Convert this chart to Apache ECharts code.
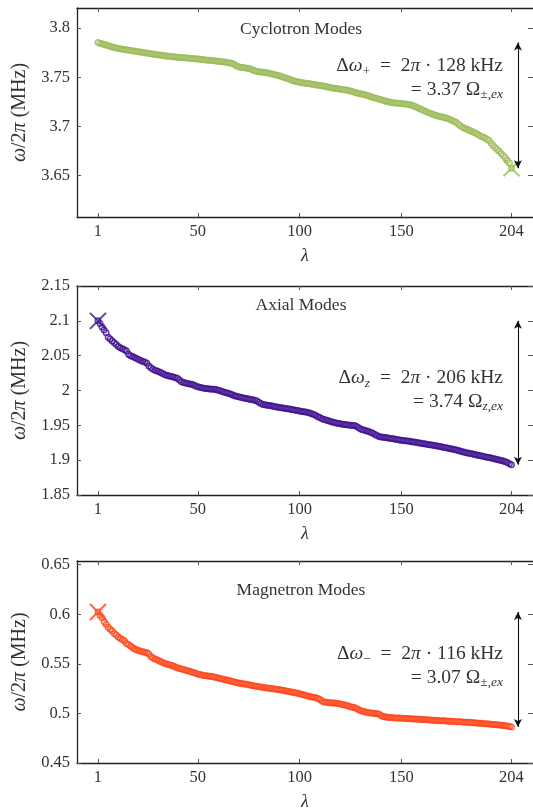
<!DOCTYPE html>
<html><head><meta charset="utf-8">
<script src="https://cdn.jsdelivr.net/npm/echarts@6/dist/echarts.min.js"></script>
<style>html,body{margin:0;padding:0;background:#fff}#c{width:533px;height:812px}</style>
</head><body><div id="c"></div>
<script>
// ---- data ----
const modeIndex = [];
for (let k = 1; k <= 204; k++) modeIndex.push(k);

const cyclotron = [
3.7853,3.7845,3.7839,3.7833,3.7827,3.7821,3.7815,3.7808,3.7802,3.7797,
3.7793,3.7789,3.7785,3.7781,3.7778,3.7775,3.7771,3.7768,3.7765,3.7762,
3.7758,3.7755,3.7751,3.7748,3.7745,3.7742,3.7739,3.7735,3.7732,3.7729,
3.7726,3.7723,3.7720,3.7717,3.7714,3.7712,3.7710,3.7708,3.7706,3.7703,
3.7701,3.7699,3.7697,3.7695,3.7694,3.7692,3.7690,3.7688,3.7687,3.7685,
3.7683,3.7680,3.7678,3.7676,3.7673,3.7671,3.7669,3.7667,3.7665,3.7662,
3.7660,3.7658,3.7655,3.7651,3.7648,3.7644,3.7638,3.7630,3.7615,3.7606,
3.7602,3.7599,3.7596,3.7592,3.7588,3.7582,3.7574,3.7565,3.7558,3.7555,
3.7553,3.7551,3.7548,3.7545,3.7540,3.7535,3.7530,3.7525,3.7520,3.7515,
3.7508,3.7500,3.7493,3.7486,3.7478,3.7471,3.7464,3.7458,3.7453,3.7448,
3.7445,3.7441,3.7438,3.7435,3.7432,3.7429,3.7426,3.7422,3.7418,3.7415,
3.7412,3.7408,3.7404,3.7400,3.7395,3.7391,3.7388,3.7385,3.7382,3.7378,
3.7375,3.7372,3.7369,3.7365,3.7360,3.7353,3.7346,3.7340,3.7336,3.7330,
3.7325,3.7320,3.7315,3.7308,3.7300,3.7294,3.7288,3.7282,3.7276,3.7270,
3.7264,3.7258,3.7252,3.7247,3.7242,3.7239,3.7237,3.7235,3.7234,3.7232,
3.7230,3.7227,3.7224,3.7220,3.7214,3.7207,3.7198,3.7188,3.7179,3.7170,
3.7160,3.7150,3.7140,3.7132,3.7125,3.7118,3.7110,3.7104,3.7099,3.7095,
3.7090,3.7084,3.7077,3.7070,3.7060,3.7050,3.7038,3.7022,3.7005,3.6990,
3.6980,3.6972,3.6963,3.6955,3.6945,3.6935,3.6923,3.6912,3.6900,3.6890,
3.6880,3.6868,3.6855,3.6830,3.6805,3.6785,3.6765,3.6745,3.6722,3.6700,
3.6680,3.6655,3.6630,3.6573];

const axial = [
2.1000,2.0960,2.0910,2.0870,2.0830,2.0765,2.0740,2.0712,2.0685,2.0662,
2.0630,2.0615,2.0600,2.0585,2.0568,2.0520,2.0500,2.0488,2.0472,2.0458,
2.0445,2.0432,2.0418,2.0408,2.0390,2.0350,2.0328,2.0305,2.0292,2.0280,
2.0268,2.0255,2.0240,2.0225,2.0215,2.0208,2.0200,2.0192,2.0184,2.0175,
2.0150,2.0125,2.0115,2.0108,2.0100,2.0094,2.0088,2.0078,2.0064,2.0055,
2.0048,2.0040,2.0034,2.0030,2.0026,2.0022,2.0019,2.0017,2.0014,2.0005,
1.9995,1.9985,1.9975,1.9968,1.9960,1.9948,1.9938,1.9925,1.9918,1.9910,
1.9902,1.9896,1.9890,1.9884,1.9878,1.9872,1.9866,1.9860,1.9850,1.9832,
1.9812,1.9800,1.9795,1.9790,1.9786,1.9782,1.9775,1.9768,1.9762,1.9757,
1.9752,1.9748,1.9743,1.9738,1.9734,1.9729,1.9724,1.9718,1.9712,1.9706,
1.9700,1.9696,1.9690,1.9684,1.9678,1.9668,1.9655,1.9640,1.9625,1.9612,
1.9595,1.9585,1.9575,1.9566,1.9557,1.9548,1.9540,1.9533,1.9527,1.9521,
1.9516,1.9512,1.9508,1.9505,1.9502,1.9499,1.9496,1.9485,1.9465,1.9448,
1.9438,1.9428,1.9420,1.9410,1.9398,1.9385,1.9370,1.9355,1.9340,1.9332,
1.9328,1.9325,1.9321,1.9316,1.9311,1.9306,1.9301,1.9296,1.9291,1.9287,
1.9283,1.9279,1.9275,1.9270,1.9265,1.9261,1.9256,1.9251,1.9246,1.9240,
1.9236,1.9231,1.9226,1.9222,1.9217,1.9212,1.9206,1.9200,1.9195,1.9189,
1.9183,1.9177,1.9171,1.9165,1.9159,1.9152,1.9145,1.9137,1.9129,1.9120,
1.9112,1.9106,1.9100,1.9094,1.9087,1.9081,1.9075,1.9068,1.9062,1.9056,
1.9050,1.9043,1.9037,1.9030,1.9023,1.9016,1.9009,1.9002,1.8996,1.8988,
1.8978,1.8965,1.8950,1.8935];

const magnetron = [
0.6023,0.5990,0.5965,0.5925,0.5900,0.5870,0.5850,0.5830,0.5805,0.5790,
0.5770,0.5755,0.5745,0.5730,0.5705,0.5695,0.5680,0.5665,0.5650,0.5642,
0.5635,0.5628,0.5622,0.5618,0.5612,0.5600,0.5575,0.5558,0.5548,0.5540,
0.5530,0.5520,0.5510,0.5503,0.5497,0.5492,0.5486,0.5478,0.5468,0.5460,
0.5453,0.5448,0.5442,0.5436,0.5430,0.5424,0.5418,0.5412,0.5405,0.5398,
0.5392,0.5387,0.5383,0.5380,0.5377,0.5374,0.5372,0.5368,0.5362,0.5356,
0.5351,0.5346,0.5342,0.5338,0.5334,0.5328,0.5322,0.5316,0.5311,0.5307,
0.5303,0.5300,0.5297,0.5293,0.5289,0.5285,0.5281,0.5277,0.5273,0.5269,
0.5266,0.5263,0.5260,0.5257,0.5254,0.5251,0.5248,0.5245,0.5242,0.5238,
0.5235,0.5232,0.5228,0.5224,0.5220,0.5215,0.5212,0.5209,0.5204,0.5199,
0.5194,0.5188,0.5181,0.5175,0.5170,0.5166,0.5162,0.5157,0.5150,0.5140,
0.5125,0.5115,0.5112,0.5110,0.5108,0.5106,0.5104,0.5102,0.5099,0.5095,
0.5090,0.5086,0.5082,0.5075,0.5066,0.5063,0.5060,0.5050,0.5038,0.5028,
0.5022,0.5016,0.5010,0.5006,0.5003,0.5001,0.4999,0.4997,0.4994,0.4980,
0.4970,0.4966,0.4962,0.4960,0.4958,0.4956,0.4955,0.4954,0.4953,0.4952,
0.4951,0.4950,0.4948,0.4947,0.4946,0.4944,0.4943,0.4942,0.4940,0.4939,
0.4938,0.4936,0.4935,0.4934,0.4932,0.4931,0.4930,0.4928,0.4927,0.4926,
0.4925,0.4923,0.4922,0.4921,0.4920,0.4918,0.4917,0.4916,0.4915,0.4913,
0.4912,0.4911,0.4910,0.4908,0.4907,0.4905,0.4904,0.4902,0.4900,0.4898,
0.4896,0.4895,0.4893,0.4891,0.4889,0.4887,0.4885,0.4883,0.4881,0.4879,
0.4876,0.4872,0.4868,0.4864];

const xTicks = [1, 50, 100, 150, 204];
const yTicksCyc = [3.65, 3.7, 3.75, 3.8];
const yTicksAx = [1.85, 1.9, 1.95, 2, 2.05, 2.1, 2.15];
const yTicksMag = [0.45, 0.5, 0.55, 0.6, 0.65];
const panelTitles = ['Cyclotron Modes', 'Axial Modes', 'Magnetron Modes'];
const annoLine1 = [
  '{n|Δ}{i|ω}{s|+}{n|  =  2}{i|π}{n| · 128 kHz}',
  '{n|Δ}{i|ω}{si|z}{n|  =  2}{i|π}{n| · 206 kHz}',
  '{n|Δ}{i|ω}{s|−}{n|  =  2}{i|π}{n| · 116 kHz}'
];
const annoLine2 = [
  '{n|= 3.37 Ω}{s|±,}{si|ex}',
  '{n|= 3.74 Ω}{si|z,ex}',
  '{n|= 3.07 Ω}{s|±,}{si|ex}'
];
const markAt = ['last', 'first', 'first'];

// ---- chart ----
const fam = 'Liberation Serif';
const txt = '#333';
const colors = ['#9bbb59', '#3e0f8e', '#ff451a'];
const seriesVals = [cyclotron, axial, magnetron];
const yTicks = [yTicksCyc, yTicksAx, yTicksMag];
const yRanges = [[3.6077, 3.8204], [1.85, 2.15], [0.45, 0.6537]];
const gridTops = [8, 286, 561];
const xMin = -9.3, xMax = 214.6, arrowX = 207.2;

const grid = [], xAxis = [], yAxis = [], series = [], graphic = [];
const rich = {
  n: {fontFamily: fam, fontSize: 19.5, color: txt, lineHeight: 24},
  i: {fontFamily: fam, fontSize: 19.5, fontStyle: 'italic', color: txt, lineHeight: 24},
  s: {fontFamily: fam, fontSize: 13.5, color: txt, lineHeight: 13, verticalAlign: 'bottom'},
  si: {fontFamily: fam, fontSize: 13.5, fontStyle: 'italic', color: txt, lineHeight: 13, verticalAlign: 'bottom'}
};
const axLine = {show: true, onZero: false, lineStyle: {color: '#222', width: 1.3}};

for (let p = 0; p < 3; p++) {
  grid.push({left: 77, width: 457, top: gridTops[p], height: 209});
  const tick = (vals, len) => ({show: true, inside: true, length: len, customValues: vals, lineStyle: {color: '#555', width: 1}});
  xAxis.push({
    gridIndex: p, type: 'value', min: xMin, max: xMax, position: 'bottom',
    axisLine: axLine, axisTick: tick(xTicks, 4), splitLine: {show: false},
    axisLabel: {show: true, customValues: xTicks, margin: 6, fontFamily: fam, fontSize: 16.5, color: txt},
    name: 'λ', nameLocation: 'middle', nameGap: 30,
    nameTextStyle: {fontFamily: fam, fontStyle: 'italic', fontSize: 18, color: txt}
  });
  xAxis.push({
    gridIndex: p, type: 'value', min: xMin, max: xMax, position: 'top',
    axisLine: axLine, axisTick: tick(xTicks, 4), axisLabel: {show: false}, splitLine: {show: false}
  });
  yAxis.push({
    gridIndex: p, type: 'value', min: yRanges[p][0], max: yRanges[p][1], position: 'left',
    axisLine: axLine, axisTick: tick(yTicks[p], 4), splitLine: {show: false},
    axisLabel: {show: true, customValues: yTicks[p], margin: 7, fontFamily: fam, fontSize: 16.5, color: txt},
    name: '{i|ω}/2{i|π} (MHz)', nameLocation: 'middle', nameGap: 42,
    nameTextStyle: {fontFamily: fam, fontSize: 20, color: txt,
      rich: {i: {fontFamily: fam, fontSize: 20, fontStyle: 'italic', color: txt}}}
  });
  yAxis.push({
    gridIndex: p, type: 'value', min: yRanges[p][0], max: yRanges[p][1], position: 'right',
    axisLine: {show: false, onZero: false}, axisTick: tick(yTicks[p], 5), axisLabel: {show: false}, splitLine: {show: false}
  });
  const vals = seriesVals[p];
  const data = vals.map((v, k) => [modeIndex[k], v]);
  const first = vals[0], last = vals[vals.length - 1];
  series.push({
    type: 'scatter', xAxisIndex: p * 2, yAxisIndex: p * 2, data: data,
    symbol: 'circle', symbolSize: 5.5, silent: true,
    itemStyle: {color: 'rgba(255,255,255,0)', borderColor: colors[p], borderWidth: 1.5},
    markLine: {
      silent: true, symbol: ['arrow', 'arrow'], symbolSize: [6, 8],
      lineStyle: {color: '#111', width: 1.1, type: 'solid'}, label: {show: false},
      emphasis: {disabled: true},
      data: [[{coord: [arrowX, first]}, {coord: [arrowX, last]}]]
    }
  });
  const mi = markAt[p] === 'last' ? vals.length - 1 : 0;
  series.push({
    type: 'scatter', xAxisIndex: p * 2, yAxisIndex: p * 2,
    data: [[modeIndex[mi], vals[mi]]], silent: true,
    symbol: 'path://M0,0L10,10M10,0L0,10', symbolSize: 16,
    itemStyle: {color: 'rgba(0,0,0,0)', borderColor: colors[p], borderWidth: 2}
  });
}

const titleY = [29, 305, 590];
const annoY = [66, 378, 654];
for (let p = 0; p < 3; p++) {
  graphic.push({type: 'text', silent: true, style: {
    text: panelTitles[p], x: 301, y: titleY[p], align: 'center', verticalAlign: 'middle',
    font: '17.5px "Liberation Serif"', fill: txt}});
  graphic.push({type: 'text', silent: true, style: {
    text: annoLine1[p], x: 503, y: annoY[p], align: 'right', verticalAlign: 'middle', rich: rich, fill: txt}});
  graphic.push({type: 'text', silent: true, style: {
    text: annoLine2[p], x: 503, y: annoY[p] + 23.5, align: 'right', verticalAlign: 'middle', rich: rich, fill: txt}});
}

const chart = echarts.init(document.getElementById('c'), null, {renderer: 'canvas'});
chart.setOption({animation: false, grid, xAxis, yAxis, series, graphic});
</script></body></html>
